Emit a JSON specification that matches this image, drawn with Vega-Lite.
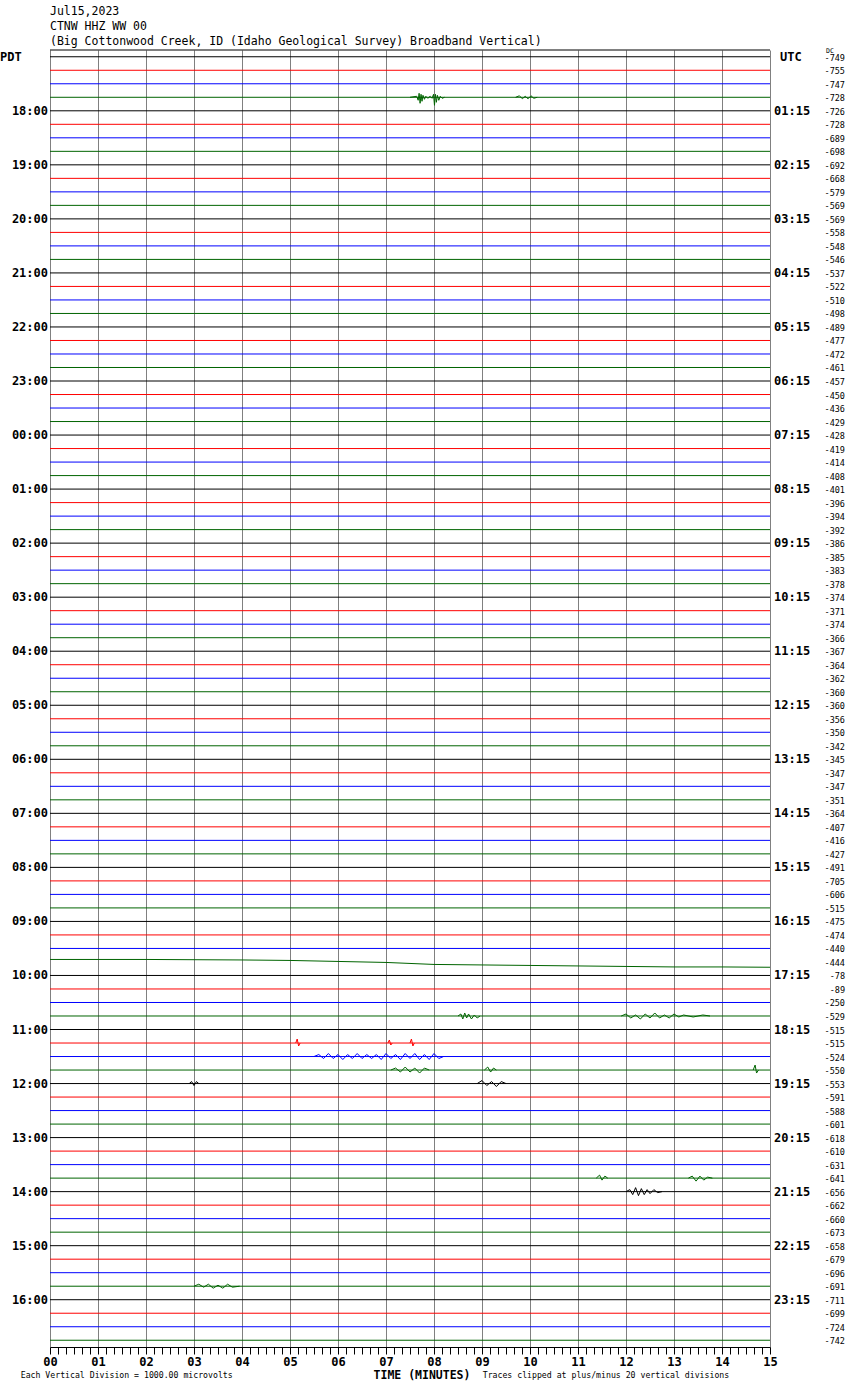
{
  "$schema": "https://vega.github.io/schema/vega-lite/v6.json",
  "width": 720,
  "height": 1297,
  "autosize": "none",
  "padding": {"left": 50, "top": 50, "right": 80, "bottom": 43},
  "background": "white",
  "config": {"view": {"stroke": null}, "font": "DejaVu Sans Mono"},
  "title": {
    "text": ["Jul15,2023", "CTNW HHZ WW 00", "(Big Cottonwood Creek, ID (Idaho Geological Survey) Broadband Vertical)"],
    "anchor": "start",
    "frame": "group",
    "orient": "top",
    "font": "DejaVu Sans Mono",
    "fontSize": 11.5,
    "fontWeight": "normal",
    "lineHeight": 15,
    "offset": 1,
    "color": "black"
  },
  "resolve": {"axis": {"x": "independent", "y": "independent"}},
  "datasets": {
    "tr": [
      {"t":0,"c":"k","dc":"-749"},{"t":1,"c":"r","dc":"-755"},{"t":2,"c":"b","dc":"-747"},{"t":3,"c":"g","dc":"-728"},
      {"t":4,"c":"k","dc":"-726","pdt":"18:00","utc":"01:15"},{"t":5,"c":"r","dc":"-728"},{"t":6,"c":"b","dc":"-689"},{"t":7,"c":"g","dc":"-698"},
      {"t":8,"c":"k","dc":"-692","pdt":"19:00","utc":"02:15"},{"t":9,"c":"r","dc":"-668"},{"t":10,"c":"b","dc":"-579"},{"t":11,"c":"g","dc":"-569"},
      {"t":12,"c":"k","dc":"-569","pdt":"20:00","utc":"03:15"},{"t":13,"c":"r","dc":"-558"},{"t":14,"c":"b","dc":"-548"},{"t":15,"c":"g","dc":"-546"},
      {"t":16,"c":"k","dc":"-537","pdt":"21:00","utc":"04:15"},{"t":17,"c":"r","dc":"-522"},{"t":18,"c":"b","dc":"-510"},{"t":19,"c":"g","dc":"-498"},
      {"t":20,"c":"k","dc":"-489","pdt":"22:00","utc":"05:15"},{"t":21,"c":"r","dc":"-477"},{"t":22,"c":"b","dc":"-472"},{"t":23,"c":"g","dc":"-461"},
      {"t":24,"c":"k","dc":"-457","pdt":"23:00","utc":"06:15"},{"t":25,"c":"r","dc":"-450"},{"t":26,"c":"b","dc":"-436"},{"t":27,"c":"g","dc":"-429"},
      {"t":28,"c":"k","dc":"-428","pdt":"00:00","utc":"07:15"},{"t":29,"c":"r","dc":"-419"},{"t":30,"c":"b","dc":"-414"},{"t":31,"c":"g","dc":"-408"},
      {"t":32,"c":"k","dc":"-401","pdt":"01:00","utc":"08:15"},{"t":33,"c":"r","dc":"-396"},{"t":34,"c":"b","dc":"-394"},{"t":35,"c":"g","dc":"-392"},
      {"t":36,"c":"k","dc":"-386","pdt":"02:00","utc":"09:15"},{"t":37,"c":"r","dc":"-385"},{"t":38,"c":"b","dc":"-383"},{"t":39,"c":"g","dc":"-378"},
      {"t":40,"c":"k","dc":"-374","pdt":"03:00","utc":"10:15"},{"t":41,"c":"r","dc":"-371"},{"t":42,"c":"b","dc":"-374"},{"t":43,"c":"g","dc":"-366"},
      {"t":44,"c":"k","dc":"-367","pdt":"04:00","utc":"11:15"},{"t":45,"c":"r","dc":"-364"},{"t":46,"c":"b","dc":"-362"},{"t":47,"c":"g","dc":"-360"},
      {"t":48,"c":"k","dc":"-360","pdt":"05:00","utc":"12:15"},{"t":49,"c":"r","dc":"-356"},{"t":50,"c":"b","dc":"-350"},{"t":51,"c":"g","dc":"-342"},
      {"t":52,"c":"k","dc":"-345","pdt":"06:00","utc":"13:15"},{"t":53,"c":"r","dc":"-347"},{"t":54,"c":"b","dc":"-347"},{"t":55,"c":"g","dc":"-351"},
      {"t":56,"c":"k","dc":"-364","pdt":"07:00","utc":"14:15"},{"t":57,"c":"r","dc":"-407"},{"t":58,"c":"b","dc":"-416"},{"t":59,"c":"g","dc":"-427"},
      {"t":60,"c":"k","dc":"-491","pdt":"08:00","utc":"15:15"},{"t":61,"c":"r","dc":"-705"},{"t":62,"c":"b","dc":"-606"},{"t":63,"c":"g","dc":"-515"},
      {"t":64,"c":"k","dc":"-475","pdt":"09:00","utc":"16:15"},{"t":65,"c":"r","dc":"-474"},{"t":66,"c":"b","dc":"-440"},{"t":67,"c":"g","dc":"-444"},
      {"t":68,"c":"k","dc":"-78","pdt":"10:00","utc":"17:15"},{"t":69,"c":"r","dc":"-89"},{"t":70,"c":"b","dc":"-250"},{"t":71,"c":"g","dc":"-529"},
      {"t":72,"c":"k","dc":"-515","pdt":"11:00","utc":"18:15"},{"t":73,"c":"r","dc":"-515"},{"t":74,"c":"b","dc":"-524"},{"t":75,"c":"g","dc":"-550"},
      {"t":76,"c":"k","dc":"-553","pdt":"12:00","utc":"19:15"},{"t":77,"c":"r","dc":"-591"},{"t":78,"c":"b","dc":"-588"},{"t":79,"c":"g","dc":"-601"},
      {"t":80,"c":"k","dc":"-618","pdt":"13:00","utc":"20:15"},{"t":81,"c":"r","dc":"-610"},{"t":82,"c":"b","dc":"-631"},{"t":83,"c":"g","dc":"-641"},
      {"t":84,"c":"k","dc":"-656","pdt":"14:00","utc":"21:15"},{"t":85,"c":"r","dc":"-662"},{"t":86,"c":"b","dc":"-660"},{"t":87,"c":"g","dc":"-673"},
      {"t":88,"c":"k","dc":"-658","pdt":"15:00","utc":"22:15"},{"t":89,"c":"r","dc":"-679"},{"t":90,"c":"b","dc":"-696"},{"t":91,"c":"g","dc":"-691"},
      {"t":92,"c":"k","dc":"-711","pdt":"16:00","utc":"23:15"},{"t":93,"c":"r","dc":"-699"},{"t":94,"c":"b","dc":"-724"},{"t":95,"c":"g","dc":"-742"}
    ],
    "ev": [
      {"s":"e1","c":"g","m":7.50,"v":3},{"s":"e1","c":"g","m":7.64,"v":2.926},{"s":"e1","c":"g","m":7.67,"v":3.222},{"s":"e1","c":"g","m":7.69,"v":2.704},
      {"s":"e1","c":"g","m":7.71,"v":3.444},{"s":"e1","c":"g","m":7.73,"v":2.778},{"s":"e1","c":"g","m":7.75,"v":3.296},{"s":"e1","c":"g","m":7.77,"v":2.852},
      {"s":"e1","c":"g","m":7.80,"v":3.148},{"s":"e1","c":"g","m":7.83,"v":2.926},{"s":"e1","c":"g","m":7.87,"v":3.074},{"s":"e1","c":"g","m":7.92,"v":2.926},
      {"s":"e1","c":"g","m":7.96,"v":3.074},{"s":"e1","c":"g","m":7.99,"v":2.778},{"s":"e1","c":"g","m":8.01,"v":3.593},{"s":"e1","c":"g","m":8.03,"v":2.778},
      {"s":"e1","c":"g","m":8.05,"v":3.370},{"s":"e1","c":"g","m":8.07,"v":2.852},{"s":"e1","c":"g","m":8.10,"v":3.222},{"s":"e1","c":"g","m":8.13,"v":2.926},
      {"s":"e1","c":"g","m":8.17,"v":3.074},{"s":"e1","c":"g","m":8.22,"v":3},
      {"s":"e1b","c":"g","m":9.70,"v":3},{"s":"e1b","c":"g","m":9.78,"v":2.889},{"s":"e1b","c":"g","m":9.84,"v":3.111},{"s":"e1b","c":"g","m":9.90,"v":2.926},
      {"s":"e1b","c":"g","m":9.96,"v":3.111},{"s":"e1b","c":"g","m":10.02,"v":2.889},{"s":"e1b","c":"g","m":10.08,"v":3.074},{"s":"e1b","c":"g","m":10.15,"v":3},
      {"s":"e2","c":"g","m":0,"v":66.815},{"s":"e2","c":"g","m":2,"v":66.815},{"s":"e2","c":"g","m":4,"v":66.852},{"s":"e2","c":"g","m":5,"v":66.889},
      {"s":"e2","c":"g","m":6,"v":66.963},{"s":"e2","c":"g","m":7,"v":67.037},{"s":"e2","c":"g","m":7.5,"v":67.111},{"s":"e2","c":"g","m":8,"v":67.185},
      {"s":"e2","c":"g","m":9,"v":67.222},{"s":"e2","c":"g","m":10,"v":67.259},{"s":"e2","c":"g","m":11,"v":67.296},{"s":"e2","c":"g","m":12,"v":67.333},
      {"s":"e2","c":"g","m":13,"v":67.37},{"s":"e2","c":"g","m":14,"v":67.37},{"s":"e2","c":"g","m":15,"v":67.393},
      {"s":"e3a","c":"g","m":8.50,"v":71},{"s":"e3a","c":"g","m":8.56,"v":70.852},{"s":"e3a","c":"g","m":8.60,"v":71.222},{"s":"e3a","c":"g","m":8.64,"v":70.778},
      {"s":"e3a","c":"g","m":8.68,"v":71.148},{"s":"e3a","c":"g","m":8.72,"v":70.852},{"s":"e3a","c":"g","m":8.78,"v":71.222},{"s":"e3a","c":"g","m":8.84,"v":70.926},
      {"s":"e3a","c":"g","m":8.90,"v":71.148},{"s":"e3a","c":"g","m":8.96,"v":71},
      {"s":"e3b","c":"g","m":11.9,"v":71},{"s":"e3b","c":"g","m":12.0,"v":70.852},{"s":"e3b","c":"g","m":12.1,"v":71.148},{"s":"e3b","c":"g","m":12.2,"v":70.926},
      {"s":"e3b","c":"g","m":12.3,"v":71.222},{"s":"e3b","c":"g","m":12.4,"v":70.852},{"s":"e3b","c":"g","m":12.5,"v":71.148},{"s":"e3b","c":"g","m":12.6,"v":70.778},
      {"s":"e3b","c":"g","m":12.7,"v":71.148},{"s":"e3b","c":"g","m":12.8,"v":70.926},{"s":"e3b","c":"g","m":12.9,"v":71.148},{"s":"e3b","c":"g","m":13.0,"v":70.852},
      {"s":"e3b","c":"g","m":13.1,"v":71.074},{"s":"e3b","c":"g","m":13.2,"v":70.926},{"s":"e3b","c":"g","m":13.4,"v":71.074},{"s":"e3b","c":"g","m":13.6,"v":70.926},
      {"s":"e3b","c":"g","m":13.75,"v":71},
      {"s":"e4a","c":"r","m":5.12,"v":73},{"s":"e4a","c":"r","m":5.15,"v":72.704},{"s":"e4a","c":"r","m":5.18,"v":73.222},{"s":"e4a","c":"r","m":5.21,"v":73},
      {"s":"e4b","c":"r","m":7.04,"v":73},{"s":"e4b","c":"r","m":7.07,"v":72.778},{"s":"e4b","c":"r","m":7.10,"v":73.148},{"s":"e4b","c":"r","m":7.13,"v":73},
      {"s":"e4c","c":"r","m":7.50,"v":73},{"s":"e4c","c":"r","m":7.53,"v":72.704},{"s":"e4c","c":"r","m":7.56,"v":73.222},{"s":"e4c","c":"r","m":7.59,"v":73},
      {"s":"e5","c":"b","m":5.5,"v":74},{"s":"e5","c":"b","m":5.6,"v":73.852},{"s":"e5","c":"b","m":5.7,"v":74.148},{"s":"e5","c":"b","m":5.8,"v":73.778},
      {"s":"e5","c":"b","m":5.9,"v":74.148},{"s":"e5","c":"b","m":6.0,"v":73.852},{"s":"e5","c":"b","m":6.1,"v":74.222},{"s":"e5","c":"b","m":6.2,"v":73.852},
      {"s":"e5","c":"b","m":6.3,"v":74.148},{"s":"e5","c":"b","m":6.4,"v":73.778},{"s":"e5","c":"b","m":6.5,"v":74.148},{"s":"e5","c":"b","m":6.6,"v":73.852},
      {"s":"e5","c":"b","m":6.7,"v":74.148},{"s":"e5","c":"b","m":6.8,"v":73.852},{"s":"e5","c":"b","m":6.9,"v":74.222},{"s":"e5","c":"b","m":7.0,"v":73.778},
      {"s":"e5","c":"b","m":7.1,"v":74.148},{"s":"e5","c":"b","m":7.2,"v":73.852},{"s":"e5","c":"b","m":7.3,"v":74.222},{"s":"e5","c":"b","m":7.4,"v":73.778},
      {"s":"e5","c":"b","m":7.5,"v":74.148},{"s":"e5","c":"b","m":7.6,"v":73.778},{"s":"e5","c":"b","m":7.7,"v":74.222},{"s":"e5","c":"b","m":7.8,"v":73.852},
      {"s":"e5","c":"b","m":7.9,"v":74.222},{"s":"e5","c":"b","m":8.0,"v":73.778},{"s":"e5","c":"b","m":8.1,"v":74.148},{"s":"e5","c":"b","m":8.2,"v":74},
      {"s":"e6a","c":"g","m":7.1,"v":75},{"s":"e6a","c":"g","m":7.2,"v":74.852},{"s":"e6a","c":"g","m":7.3,"v":75.148},{"s":"e6a","c":"g","m":7.4,"v":74.778},
      {"s":"e6a","c":"g","m":7.5,"v":75.148},{"s":"e6a","c":"g","m":7.6,"v":74.852},{"s":"e6a","c":"g","m":7.7,"v":75.222},{"s":"e6a","c":"g","m":7.8,"v":74.852},
      {"s":"e6a","c":"g","m":7.9,"v":75},
      {"s":"e6b","c":"g","m":9.05,"v":75},{"s":"e6b","c":"g","m":9.12,"v":74.778},{"s":"e6b","c":"g","m":9.18,"v":75.148},{"s":"e6b","c":"g","m":9.24,"v":74.852},
      {"s":"e6b","c":"g","m":9.3,"v":75},
      {"s":"e6c","c":"g","m":14.65,"v":75},{"s":"e6c","c":"g","m":14.69,"v":74.63},{"s":"e6c","c":"g","m":14.72,"v":75.222},{"s":"e6c","c":"g","m":14.76,"v":75},
      {"s":"e7a","c":"k","m":2.9,"v":76},{"s":"e7a","c":"k","m":2.95,"v":75.852},{"s":"e7a","c":"k","m":3.0,"v":76.148},{"s":"e7a","c":"k","m":3.05,"v":75.852},
      {"s":"e7a","c":"k","m":3.1,"v":76},
      {"s":"e7b","c":"k","m":8.9,"v":76},{"s":"e7b","c":"k","m":9.0,"v":75.778},{"s":"e7b","c":"k","m":9.1,"v":76.148},{"s":"e7b","c":"k","m":9.2,"v":75.852},
      {"s":"e7b","c":"k","m":9.3,"v":76.222},{"s":"e7b","c":"k","m":9.4,"v":75.852},{"s":"e7b","c":"k","m":9.5,"v":76},
      {"s":"e8","c":"k","m":12.0,"v":84},{"s":"e8","c":"k","m":12.08,"v":83.852},{"s":"e8","c":"k","m":12.14,"v":84.222},{"s":"e8","c":"k","m":12.2,"v":83.704},
      {"s":"e8","c":"k","m":12.26,"v":84.296},{"s":"e8","c":"k","m":12.32,"v":83.778},{"s":"e8","c":"k","m":12.38,"v":84.222},{"s":"e8","c":"k","m":12.44,"v":83.852},
      {"s":"e8","c":"k","m":12.5,"v":84.148},{"s":"e8","c":"k","m":12.58,"v":83.852},{"s":"e8","c":"k","m":12.66,"v":84.074},{"s":"e8","c":"k","m":12.75,"v":84},
      {"s":"e9a","c":"g","m":11.38,"v":83},{"s":"e9a","c":"g","m":11.45,"v":82.778},{"s":"e9a","c":"g","m":11.5,"v":83.148},{"s":"e9a","c":"g","m":11.56,"v":82.852},
      {"s":"e9a","c":"g","m":11.62,"v":83},
      {"s":"e9b","c":"g","m":13.3,"v":83},{"s":"e9b","c":"g","m":13.38,"v":82.852},{"s":"e9b","c":"g","m":13.46,"v":83.222},{"s":"e9b","c":"g","m":13.54,"v":82.852},
      {"s":"e9b","c":"g","m":13.62,"v":83.148},{"s":"e9b","c":"g","m":13.7,"v":82.926},{"s":"e9b","c":"g","m":13.8,"v":83},
      {"s":"e10","c":"g","m":3.0,"v":91},{"s":"e10","c":"g","m":3.1,"v":90.852},{"s":"e10","c":"g","m":3.2,"v":91.074},{"s":"e10","c":"g","m":3.3,"v":90.852},
      {"s":"e10","c":"g","m":3.4,"v":91.148},{"s":"e10","c":"g","m":3.5,"v":90.926},{"s":"e10","c":"g","m":3.6,"v":91.148},{"s":"e10","c":"g","m":3.7,"v":90.852},
      {"s":"e10","c":"g","m":3.8,"v":91.074},{"s":"e10","c":"g","m":3.95,"v":91}
    ]
  },
  "layer": [
    {
      "data": {"name": "tr"},
      "transform": [{"filter": "datum.t !== 67"}],
      "mark": {"type": "rule", "strokeWidth": 1},
      "encoding": {
        "y": {"field": "t", "type": "quantitative", "scale": {"domain": [-0.5, 95.5], "reverse": true, "nice": false, "zero": false}, "axis": null},
        "color": {"field": "c", "type": "nominal", "scale": {"domain": ["k", "r", "b", "g"], "range": ["#000000", "#ff0000", "#0000ff", "#006400"]}, "legend": null}
      }
    },
    {
      "data": {"name": "ev"},
      "mark": {"type": "line", "strokeWidth": 1},
      "encoding": {
        "x": {
          "field": "m", "type": "quantitative",
          "scale": {"domain": [0, 15], "nice": false, "zero": false},
          "axis": {
            "values": [0,0.1667,0.3333,0.5,0.6667,0.8333,1,1.1667,1.3333,1.5,1.6667,1.8333,2,2.1667,2.3333,2.5,2.6667,2.8333,3,3.1667,3.3333,3.5,3.6667,3.8333,4,4.1667,4.3333,4.5,4.6667,4.8333,5,5.1667,5.3333,5.5,5.6667,5.8333,6,6.1667,6.3333,6.5,6.6667,6.8333,7,7.1667,7.3333,7.5,7.6667,7.8333,8,8.1667,8.3333,8.5,8.6667,8.8333,9,9.1667,9.3333,9.5,9.6667,9.8333,10,10.1667,10.3333,10.5,10.6667,10.8333,11,11.1667,11.3333,11.5,11.6667,11.8333,12,12.1667,12.3333,12.5,12.6667,12.8333,13,13.1667,13.3333,13.5,13.6667,13.8333,14,14.1667,14.3333,14.5,14.6667,14.8333,15],
            "orient": "bottom",
            "domain": true, "domainColor": "#000000", "domainWidth": 1,
            "ticks": true, "tickColor": "#000000", "tickSize": 7, "tickWidth": 1,
            "grid": true, "gridColor": "#808080", "gridWidth": 1,
            "gridOpacity": {"condition": {"test": "datum.value % 1 === 0", "value": 1}, "value": 0},
            "labelExpr": "datum.value % 1 === 0 ? (datum.value < 10 ? '0' + datum.value : '' + datum.value) : ''",
            "labelFont": "DejaVu Sans Mono", "labelFontSize": 12, "labelFontWeight": "bold", "labelColor": "#000000",
            "labelPadding": 2, "labelOverlap": false, "labelFlush": false, "labelBound": false,
            "title": null
          }
        },
        "y": {"field": "v", "type": "quantitative", "axis": null},
        "color": {"field": "c", "type": "nominal"},
        "detail": {"field": "s"}
      }
    },
    {
      "data": {"values": [{}]},
      "mark": {"type": "rule", "color": "#000000", "strokeWidth": 1},
      "encoding": {"y": {"datum": -0.5, "type": "quantitative", "axis": null}}
    },
    {
      "data": {"name": "tr"},
      "transform": [{"filter": "datum.pdt"}],
      "mark": {"type": "text", "align": "right", "baseline": "middle", "dx": -2, "font": "DejaVu Sans Mono", "fontSize": 12, "fontWeight": "bold", "color": "#000000"},
      "encoding": {"x": {"datum": 0, "type": "quantitative", "axis": null}, "y": {"field": "t", "type": "quantitative", "axis": null}, "text": {"field": "pdt"}}
    },
    {
      "data": {"name": "tr"},
      "transform": [{"filter": "datum.utc"}],
      "mark": {"type": "text", "align": "left", "baseline": "middle", "dx": 4, "font": "DejaVu Sans Mono", "fontSize": 12, "fontWeight": "bold", "color": "#000000"},
      "encoding": {"x": {"datum": 15, "type": "quantitative", "axis": null}, "y": {"field": "t", "type": "quantitative", "axis": null}, "text": {"field": "utc"}}
    },
    {
      "data": {"name": "tr"},
      "mark": {"type": "text", "align": "right", "baseline": "middle", "dx": 75, "dy": 1, "font": "DejaVu Sans Mono", "fontSize": 8.5, "color": "#000000"},
      "encoding": {"x": {"datum": 15, "type": "quantitative", "axis": null}, "y": {"field": "t", "type": "quantitative", "axis": null}, "text": {"field": "dc"}}
    },
    {
      "data": {"values": [{}]},
      "mark": {"type": "text", "align": "left", "baseline": "middle", "font": "DejaVu Sans Mono", "fontSize": 12, "fontWeight": "bold", "color": "#000000", "text": "PDT"},
      "encoding": {"x": {"datum": -1.0417, "type": "quantitative", "axis": null}, "y": {"datum": 0, "type": "quantitative", "axis": null}}
    },
    {
      "data": {"values": [{}]},
      "mark": {"type": "text", "align": "left", "baseline": "middle", "font": "DejaVu Sans Mono", "fontSize": 12, "fontWeight": "bold", "color": "#000000", "text": "UTC"},
      "encoding": {"x": {"datum": 15.2083, "type": "quantitative", "axis": null}, "y": {"datum": 0, "type": "quantitative", "axis": null}}
    },
    {
      "data": {"values": [{}]},
      "mark": {"type": "text", "align": "left", "baseline": "middle", "font": "DejaVu Sans Mono", "fontSize": 6.5, "color": "#000000", "text": "DC"},
      "encoding": {"x": {"datum": 16.1667, "type": "quantitative", "axis": null}, "y": {"datum": -0.42, "type": "quantitative", "axis": null}}
    },
    {
      "data": {"values": [{}]},
      "mark": {"type": "text", "align": "center", "baseline": "middle", "font": "DejaVu Sans Mono", "fontSize": 11.5, "fontWeight": "bold", "color": "#000000", "text": "TIME (MINUTES)"},
      "encoding": {"x": {"datum": 7.75, "type": "quantitative", "axis": null}, "y": {"datum": 97.63, "type": "quantitative", "axis": null}}
    },
    {
      "data": {"values": [{}]},
      "mark": {"type": "text", "align": "left", "baseline": "middle", "font": "DejaVu Sans Mono", "fontSize": 8.2, "color": "#000000", "text": "Each Vertical Division = 1000.00 microvolts"},
      "encoding": {"x": {"datum": -0.61, "type": "quantitative", "axis": null}, "y": {"datum": 97.68, "type": "quantitative", "axis": null}}
    },
    {
      "data": {"values": [{}]},
      "mark": {"type": "text", "align": "left", "baseline": "middle", "font": "DejaVu Sans Mono", "fontSize": 8.2, "color": "#000000", "text": "Traces clipped at plus/minus 20 vertical divisions"},
      "encoding": {"x": {"datum": 9.015, "type": "quantitative", "axis": null}, "y": {"datum": 97.68, "type": "quantitative", "axis": null}}
    }
  ]
}
